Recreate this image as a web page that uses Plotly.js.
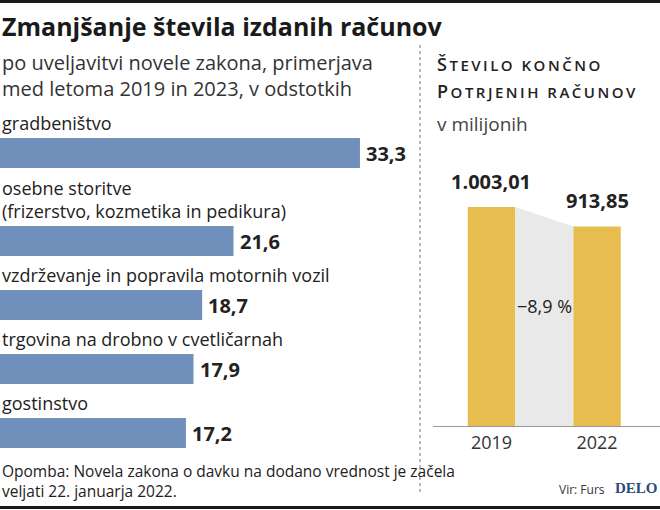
<!DOCTYPE html>
<html><head><meta charset="utf-8">
<script src="https://cdn.plot.ly/plotly-3.0.1.min.js"></script>
<style>html,body{margin:0;padding:0;background:#fff}#chart{width:660px;height:510px}</style>
</head><body><div id="chart"></div>
<script>
// ---- data ----
const categories = ['gradbeništvo', 'osebne storitve<br>(frizerstvo, kozmetika in pedikura)', 'vzdrževanje in popravila motornih vozil', 'trgovina na drobno v cvetličarnah', 'gostinstvo'];
const values = [33.3, 21.6, 18.7, 17.9, 17.2];
const years = ['2019', '2022'];
const invoices = [1003.01, 913.85];
const changeLabel = '−8,9 %';

// ---- helpers ----
const W = 660, H = 510;
const fmt1 = v => v.toFixed(1).replace('.', ',');
const fmt2 = v => { const p = v.toFixed(2).split('.'); return p[0].replace(/\B(?=(\d{3})+(?!\d))/g, '.') + ',' + p[1]; };
const sans = 'Open Sans, Noto Sans, sans-serif';
const smallCaps = (s, big, ls) => '<span style="letter-spacing:' + ls + 'px">' +
  '<span style="font-size:' + big + 'px">' + s.charAt(0).toUpperCase() + '</span>' + s.slice(1).toUpperCase() + '</span>';

// row positions derived from number of label lines (unit = one text line)
const lines = categories.map(c => c.split('<br>').length);
const gapUnits = 40 / 24;
const pos = [];
categories.forEach((c, i) => { pos.push(i === 0 ? 0 : pos[i - 1] + lines[i] + gapUnits); });
const barW = 1.25;
const yIdx = years.map((_, i) => i);
const vBarW = 0.45;

const traces = [
  { type: 'bar', orientation: 'h', x: values, y: pos, width: barW,
    marker: { color: '#7090bb' }, xaxis: 'x', yaxis: 'y', hoverinfo: 'none' },
  { type: 'scatter', mode: 'lines', x: [yIdx[0] + vBarW / 2, yIdx[1] - vBarW / 2], y: invoices,
    fill: 'tozeroy', fillcolor: '#e9e9e9', line: { width: 0, color: '#e9e9e9' },
    xaxis: 'x2', yaxis: 'y2', hoverinfo: 'none' },
  { type: 'bar', x: yIdx, y: invoices, width: vBarW, marker: { color: '#e7bd50' },
    xaxis: 'x2', yaxis: 'y2', hoverinfo: 'none' }
];

const ann = [];
// header
ann.push({ xref: 'paper', yref: 'paper', x: 0, y: 1 - 7 / H, xanchor: 'left', yanchor: 'top', showarrow: false,
  text: '<b>Zmanjšanje števila izdanih računov</b>', font: { family: sans, size: 25, color: '#1a1a1a' } });
ann.push({ xref: 'paper', yref: 'paper', x: 0, y: 1 - 47 / H, xanchor: 'left', yanchor: 'top', showarrow: false, align: 'left',
  text: 'po uveljavitvi novele zakona, primerjava<br>med letoma 2019 in 2023, v odstotkih', font: { family: sans, size: 20, color: '#333' } });
// category labels and values
categories.forEach((c, i) => {
  ann.push({ xref: 'x', yref: 'y', x: 0, y: pos[i] - barW / 2, xanchor: 'left', yanchor: 'bottom', yshift: 1, showarrow: false, align: 'left',
    text: c, font: { family: sans, size: 18, color: '#222' } });
  ann.push({ xref: 'x', yref: 'y', x: values[i], y: pos[i], xanchor: 'left', yanchor: 'middle', xshift: 4, showarrow: false,
    text: '<b>' + fmt1(values[i]) + '</b>', font: { family: sans, size: 20, color: '#222' } });
});
// right panel header
ann.push({ xref: 'paper', yref: 'paper', x: 435 / W, y: 1 - 64 / H, xanchor: 'left', yanchor: 'middle', showarrow: false,
  text: smallCaps('Število končno', 18, 2.5), font: { family: sans, size: 15, color: '#222', weight: 600 } });
ann.push({ xref: 'paper', yref: 'paper', x: 435 / W, y: 1 - 91 / H, xanchor: 'left', yanchor: 'middle', showarrow: false,
  text: smallCaps('potrjenih računov', 18, 2.5), font: { family: sans, size: 15, color: '#222', weight: 600 } });
ann.push({ xref: 'paper', yref: 'paper', x: 435 / W, y: 1 - 124 / H, xanchor: 'left', yanchor: 'middle', showarrow: false,
  text: 'v milijonih', font: { family: sans, size: 19, color: '#444' } });
invoices.forEach((v, i) => {
  ann.push({ xref: 'x2', yref: 'y2', x: yIdx[i], y: v, xanchor: 'center', yanchor: 'bottom', yshift: 10, showarrow: false,
    text: '<b>' + fmt2(v) + '</b>', font: { family: sans, size: 20, color: '#222' } });
});
ann.push({ xref: 'x2', yref: 'y2', x: (yIdx[0] + yIdx[1]) / 2, y: Math.min(...invoices) * 0.6, xanchor: 'center', yanchor: 'middle', showarrow: false,
  text: changeLabel, font: { family: sans, size: 18, color: '#222' } });
// footer
ann.push({ xref: 'paper', yref: 'paper', x: 0, y: 1 - 458 / H, xanchor: 'left', yanchor: 'top', showarrow: false, align: 'left',
  text: 'Opomba: Novela zakona o davku na dodano vrednost je začela<br>veljati 22. januarja 2022.', font: { family: sans, size: 15.5, color: '#222' } });
ann.push({ xref: 'paper', yref: 'paper', x: 607 / W, y: 1 - 489 / H, xanchor: 'right', yanchor: 'middle', showarrow: false,
  text: 'Vir: Furs', font: { family: sans, size: 12, color: '#333' } });
ann.push({ xref: 'paper', yref: 'paper', x: 1, y: 1 - 488 / H, xanchor: 'right', yanchor: 'middle', showarrow: false,
  text: '<b>DELO</b>', font: { family: 'Liberation Serif, DejaVu Serif, serif', size: 15, color: '#2a4b7c' } });

const shapes = [
  { type: 'line', xref: 'paper', yref: 'paper', x0: 0, x1: 1, y0: 1 - 1.5 / H, y1: 1 - 1.5 / H, line: { color: '#1a1a1a', width: 3 } },
  { type: 'line', xref: 'paper', yref: 'paper', x0: 0, x1: 1, y0: 2.5 / H, y1: 2.5 / H, line: { color: '#1a1a1a', width: 3 } },
  { type: 'line', xref: 'paper', yref: 'paper', x0: 420 / W, x1: 420 / W, y0: 1 - 45 / H, y1: 1 - 495 / H, line: { color: '#777', width: 1, dash: 'dot' } }
];

const pxPerUnit = 10.81;
const vScale = 219 / invoices[0];
const baseY = 426, topY = 160;
const layout = {
  width: W, height: H, margin: { l: 0, r: 0, t: 0, b: 0 },
  paper_bgcolor: '#fff', plot_bgcolor: 'rgba(0,0,0,0)', showlegend: false,
  xaxis: { domain: [0, 420 / W], range: [0, 420 / pxPerUnit], visible: false, fixedrange: true },
  yaxis: { domain: [0, 1], range: [(H - 153) / 24, -153 / 24], visible: false, fixedrange: true },
  xaxis2: { domain: [433 / W, 1], range: [-(491.5 - 433) / 105.5, 1 + (660 - 597) / 105.5], anchor: 'y2',
    tickvals: yIdx, ticktext: years, ticks: '', showgrid: false, zeroline: false, showline: true, linecolor: '#999', linewidth: 1,
    tickfont: { family: sans, size: 18, color: '#333' }, fixedrange: true },
  yaxis2: { domain: [(H - baseY) / H, (H - topY) / H], range: [0, (baseY - topY) / vScale], anchor: 'x2', visible: false, fixedrange: true },
  annotations: ann, shapes: shapes
};
Plotly.newPlot('chart', traces, layout, { displayModeBar: false, staticPlot: true });
</script>
</body></html>
